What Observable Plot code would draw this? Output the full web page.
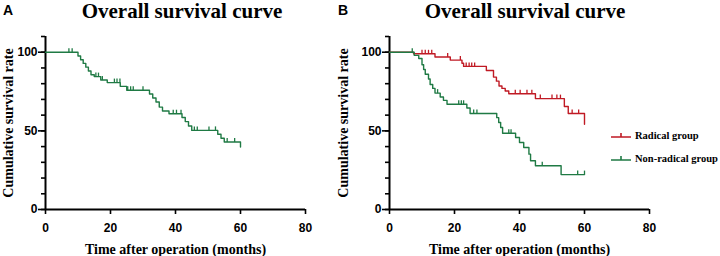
<!DOCTYPE html>
<html>
<head>
<meta charset="utf-8">
<script src="https://cdn.jsdelivr.net/npm/d3@7"></script>
<script src="https://cdn.jsdelivr.net/npm/@observablehq/plot@0.6"></script>
<style>
  html, body { margin: 0; padding: 0; background: #fff; }
  #wrap { position: relative; width: 720px; height: 256px; overflow: hidden; background: #fff; }
  .panel { position: absolute; top: 0; }
  .title { position: absolute; top: 0px; font-family: "Liberation Serif", "Times New Roman", serif; font-weight: bold; font-size: 21px; line-height: 1.05; white-space: nowrap; transform: translateX(-50%); color: #000; }
  .letter { position: absolute; top: 3px; font-family: "Liberation Sans", Arial, sans-serif; font-weight: bold; font-size: 14px; line-height: 1; color: #000; }
  .legend { position: absolute; left: 611px; font-family: "Liberation Serif", "Times New Roman", serif; font-weight: bold; font-size: 10.5px; line-height: 1; white-space: nowrap; display: flex; align-items: center; }
  .legend svg { margin-right: 4px; }
</style>
</head>
<body>
<div id="wrap"></div>
<script>
// ---------- data ----------
const xTicks = [0, 20, 40, 60, 80];
const yMajorTicks = [0, 50, 100];
const yMinorTicks = [0, 10, 20, 30, 40, 50, 60, 70, 80, 90, 100, 110];
const xLabel = "Time after operation (months)";
const yLabel = "Cumulative survival rate";

// Panel A: overall
const timeA = [0, 10, 10.8, 11.6, 12.4, 13.2, 14, 15, 17, 19, 23, 25, 32, 33, 34, 35, 36, 38, 42, 43, 44, 45, 53, 54, 55, 60];
const survA = [100, 97.6, 95.2, 92.9, 90.5, 88.1, 85.7, 84.5, 82.3, 80.7, 78.3, 75.8, 73.4, 70.9, 68.4, 65.1, 62.6, 60.9, 58.5, 55.9, 53.1, 50.3, 47.8, 45.3, 42.9, 39.7];
const censorA = [7.2, 8.2, 15.5, 16.3, 17.5, 21.2, 22, 22.9, 25.3, 26.2, 27, 30, 39.3, 40.3, 41.7, 45.8, 46.7, 50.3, 52.3, 55.9, 58.2];

// Panel B: radical group
const timeR = [0, 7.4, 14, 18.7, 22.3, 22.8, 29.8, 32, 32.9, 33.7, 34.6, 35.6, 36.7, 44.9, 53.8, 55, 60];
const survR = [100, 99, 97, 95, 93, 91, 88.4, 84.2, 81.6, 78.5, 77, 75.3, 73.6, 70.5, 65.5, 61, 54.2];
const censorR = [10, 11, 12, 13, 17.9, 21.8, 23.6, 24.5, 25.3, 26.2, 38.7, 40.2, 42.3, 43.8, 46.4, 50, 51.5, 52.6, 56.2, 58.2];

// Panel B: non-radical group
const timeN = [0, 7.6, 9, 10, 10.5, 11, 12, 12.5, 13.3, 14, 15.6, 16.6, 17.7, 23.8, 24.8, 33, 33.6, 34.2, 34.8, 38.8, 40, 41.3, 42.9, 43.4, 44.9, 52.8, 60];
const survN = [100, 98, 96, 92, 89, 86, 83, 79.5, 77, 74, 71.5, 69.4, 66.9, 64.5, 61, 58.4, 55.3, 52.1, 48.5, 45.8, 42.6, 39.4, 35.2, 31, 27.8, 22.2, 22.2];
const censorN = [7, 14.8, 21.3, 22.1, 22.8, 25.9, 26.9, 36.7, 37.4, 47, 57.9, 60];

const groups = ["Radical group", "Non-radical group"];
const GREEN = "#1f7a44";
const RED = "#c01a24";

// ---------- helpers ----------
function curve(times, survs) { return times.map((t, i) => ({t, s: survs[i]})); }
function censors(cTimes, times, survs) {
  return cTimes.map(t => {
    let s = survs[0];
    for (let i = 0; i < times.length; i++) if (times[i] <= t) s = survs[i];
    return {t, s};
  });
}
const censorTick = { draw(ctx) { ctx.moveTo(0, 0); ctx.lineTo(0, -4); } };

function panel(series, {width, marginLeft, marginRight, yLabelOffset}) {
  const marks = [
    Plot.axisY(yMinorTicks, {tickSize: 4, tickFormat: () => "", label: null, strokeWidth: 1.6}),
    Plot.axisY(yMajorTicks, {
      tickSize: 7, tickPadding: 1, strokeWidth: 1.6,
      fontSize: 12, fontWeight: "bold", fontFamily: "Liberation Sans, Arial, sans-serif",
      label: yLabel, labelAnchor: "center", labelArrow: "none", labelOffset: yLabelOffset
    }),
    Plot.axisX(xTicks, {
      tickSize: 5, tickPadding: 9, strokeWidth: 1.6,
      fontSize: 12, fontWeight: "bold", fontFamily: "Liberation Sans, Arial, sans-serif",
      label: xLabel, labelAnchor: "center", labelArrow: "none", labelOffset: 44
    }),
    Plot.ruleX([0], {strokeWidth: 2}),
    Plot.ruleY([0], {strokeWidth: 2})
  ];
  for (const sr of series) {
    marks.push(Plot.line(sr.curve, {x: "t", y: "s", curve: "step-after", stroke: sr.color, strokeWidth: 1.4}));
    marks.push(Plot.dot(sr.censor, {x: "t", y: "s", symbol: censorTick, stroke: sr.color, fill: "none", strokeWidth: 1.3, r: 2}));
  }
  const svg = Plot.plot({
    width, height: 256,
    marginLeft, marginRight, marginTop: 36, marginBottom: 47,
    x: {domain: [0, 80]},
    y: {domain: [0, 110]},
    style: {background: "white", color: "black", overflow: "visible"},
    marks
  });
  // axis titles in bold serif
  svg.querySelectorAll("text").forEach(t => {
    const s = t.textContent.trim();
    if (s === xLabel || s === yLabel) {
      t.style.fontFamily = '"Liberation Serif", "Times New Roman", serif';
      t.style.fontWeight = "bold";
      t.style.fontSize = "14px";
    }
  });
  return svg;
}

const wrap = document.getElementById("wrap");

const svgA = panel([
  {curve: curve(timeA, survA), censor: censors(censorA, timeA, survA), color: GREEN}
], {width: 330, marginLeft: 45, marginRight: 25, yLabelOffset: 42});
svgA.classList.add("panel");
svgA.style.left = "0px";
wrap.appendChild(svgA);

const svgB = panel([
  {curve: curve(timeR, survR), censor: censors(censorR, timeR, survR), color: RED},
  {curve: curve(timeN, survN), censor: censors(censorN, timeN, survN), color: GREEN}
], {width: 390, marginLeft: 59, marginRight: 71, yLabelOffset: 51});
svgB.classList.add("panel");
svgB.style.left = "330px";
wrap.appendChild(svgB);

// titles and panel letters
function addDiv(cls, text, left) {
  const d = document.createElement("div");
  d.className = cls;
  d.textContent = text;
  d.style.left = left + "px";
  wrap.appendChild(d);
  return d;
}
addDiv("title", "Overall survival curve", 182);
addDiv("title", "Overall survival curve", 525);
addDiv("letter", "A", 3);
addDiv("letter", "B", 338);

// legend
const legendColors = [RED, GREEN];
const legendTops = [130, 153];
groups.forEach((g, i) => {
  const d = document.createElement("div");
  d.className = "legend";
  d.style.top = legendTops[i] + "px";
  const ns = "http://www.w3.org/2000/svg";
  const s = document.createElementNS(ns, "svg");
  s.setAttribute("width", 20); s.setAttribute("height", 12);
  const p = document.createElementNS(ns, "path");
  p.setAttribute("d", "M0,7H20M10,7V3");
  p.setAttribute("stroke", legendColors[i]);
  p.setAttribute("stroke-width", 1.6);
  p.setAttribute("fill", "none");
  s.appendChild(p);
  d.appendChild(s);
  const t = document.createElement("span");
  t.textContent = g;
  d.appendChild(t);
  wrap.appendChild(d);
});
</script>
</body>
</html>
